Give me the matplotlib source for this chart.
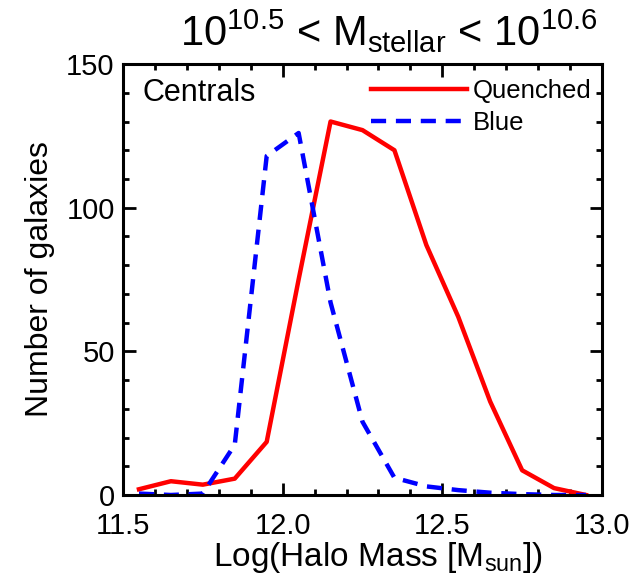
import matplotlib
matplotlib.use("Agg")
import matplotlib.pyplot as plt
from matplotlib.ticker import MultipleLocator

plt.rcParams['font.family'] = ['Liberation Sans', 'DejaVu Sans']
plt.rcParams['mathtext.fontset'] = 'custom'
plt.rcParams['mathtext.rm'] = 'Liberation Sans'
plt.rcParams['mathtext.it'] = 'Liberation Sans'
plt.rcParams['mathtext.default'] = 'regular'

# bin centres in log halo mass
halo_mass = [11.55, 11.65, 11.75, 11.85, 11.95, 12.05, 12.15, 12.25,
             12.35, 12.45, 12.55, 12.65, 12.75, 12.85, 12.95]
quenched = [2.0, 4.8, 3.6, 5.7, 18.5, 75.0, 130.0, 127.0,
            120.0, 87.0, 62.0, 32.5, 8.6, 2.4, 0.0]
blue = [0.5, 0.0, 0.5, 17.5, 118.0, 126.0, 67.0, 25.5,
        6.0, 3.0, 1.7, 0.8, 0.3, 0.0, 0.0]

fig = plt.figure(figsize=(6.36, 5.77), dpi=100)
ax = fig.add_axes([0.1934, 0.1421, 0.7531, 0.7469])

ax.plot(halo_mass, quenched, color='#ff0000', lw=3.2, label='Quenched')
ax.plot(halo_mass, blue, color='#0000ff', lw=3.2, linestyle=(0, (3.4, 2.2)), label='Blue')

ax.set_xlim(11.5, 13.0)
ax.set_ylim(0, 150)
ax.xaxis.set_major_locator(MultipleLocator(0.5))
ax.xaxis.set_minor_locator(MultipleLocator(0.1))
ax.yaxis.set_major_locator(MultipleLocator(50))
ax.yaxis.set_minor_locator(MultipleLocator(10))
ax.xaxis.set_major_formatter(plt.FormatStrFormatter('%.1f'))

ax.tick_params(which='both', direction='in', top=True, right=True, width=2, labelsize=21)
ax.tick_params(which='major', length=9)
ax.tick_params(which='minor', length=4.5)
ax.tick_params(axis='x', which='major', pad=12)
ax.tick_params(axis='y', which='major', pad=6)
for s in ax.spines.values():
    s.set_linewidth(2.2)

ax.set_xlabel('Log(Halo Mass [M$_{sun}$])', fontsize=24, x=0.532, labelpad=0)
ax.set_ylabel('Number of galaxies', fontsize=23, labelpad=8)
ax.set_title('10$^{10.5}$ < M$_{stellar}$ < 10$^{10.6}$', fontsize=30, x=0.555, pad=13)

ax.text(0.04, 0.933, 'Centrals', transform=ax.transAxes, fontsize=22, va='center', ha='left')
ax.legend(loc='upper right', bbox_to_anchor=(1.011, 1.0), frameon=False, fontsize=18.5,
          handlelength=3.74, handletextpad=0.23, labelspacing=0.3, borderaxespad=0.25,
          borderpad=0.35)

fig.savefig('out.png', dpi=100)
